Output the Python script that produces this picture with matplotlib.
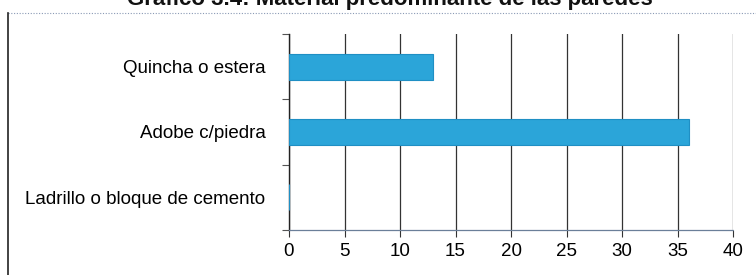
import matplotlib.pyplot as plt
from matplotlib.lines import Line2D

plt.rcParams['font.family'] = ['Liberation Sans', 'DejaVu Sans']

# data
categorias = ['Ladrillo o bloque de cemento', 'Adobe c/piedra', 'Quincha o estera']
valores = [0, 36, 13]
xticks = [0, 5, 10, 15, 20, 25, 30, 35, 40]
titulo = 'Gráfico 3.4: Material predominante de las paredes'

fig = plt.figure(figsize=(7.56, 2.75), dpi=100)
ax = fig.add_axes([289 / 756, 45 / 275, 444 / 756, 196 / 275])

ax.barh(range(len(categorias)), valores, height=0.4, color='#2ba5d9',
        edgecolor='#1f8fc4', linewidth=0.8, zorder=3)

ax.set_xlim(0, 40)
ax.set_ylim(-0.5, len(categorias) - 0.5)
ax.set_xticks(xticks)
ax.set_xticklabels([str(t) for t in xticks], fontsize=13.5)
ax.set_yticks(range(len(categorias)))
ax.set_yticklabels(categorias, fontsize=13.5)
ax.set_yticks([i - 0.5 for i in range(len(categorias) + 1)], minor=True)

ax.tick_params(axis='y', which='major', length=0, pad=17)
ax.tick_params(axis='y', which='minor', length=5, color='#555555', width=0.8)
ax.tick_params(axis='x', length=5, color='#333333', width=0.8, pad=4)

# vertical grid
ax.grid(axis='x', color='#333333', linewidth=0.9, zorder=0)
ax.set_axisbelow(True)

for s in ['top', 'right']:
    ax.spines[s].set_visible(False)
ax.spines['left'].set_color('#222222')
ax.spines['left'].set_linewidth(1.0)
ax.spines['bottom'].set_color('#6b7f99')
ax.spines['bottom'].set_linestyle((0, (1, 1)))
ax.spines['bottom'].set_linewidth(0.9)

# outer frame (only top dotted and left solid remain in the scan)
fig.add_artist(Line2D([8 / 756, 1], [1 - 13 / 275, 1 - 13 / 275], transform=fig.transFigure,
                      color='#8a9ab5', linewidth=0.8, linestyle=(0, (1, 1.5))))
fig.add_artist(Line2D([8 / 756, 8 / 756], [0, 1 - 13 / 275], transform=fig.transFigure,
                      color='#222222', linewidth=1.2))

# title cut off at the top edge, as in the scan
fig.text(390 / 756, 1 - 5 / 275, titulo, ha='center', va='baseline',
         fontsize=16, fontweight='bold', color='#111111')

fig.savefig('out.png', dpi=100)
